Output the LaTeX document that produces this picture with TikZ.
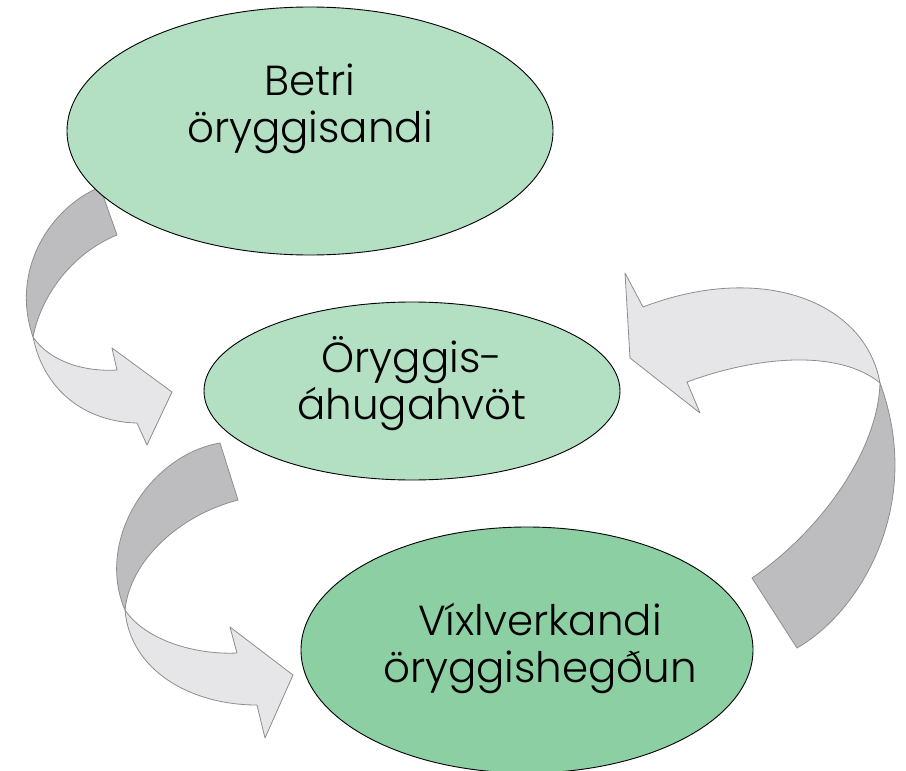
\documentclass[tikz,border=0pt]{standalone}
\usepackage{fontspec}
\setmainfont{Poppins}[UprightFont=* Light]
\usetikzlibrary{shapes.geometric}
\definecolor{mintA}{HTML}{B3DFC3}
\definecolor{mintB}{HTML}{8CCFA3}
\definecolor{bandDark}{HTML}{BDBDC0}
\definecolor{bandLight}{HTML}{E6E6E8}
\definecolor{bandEdge}{HTML}{8E8E8E}
\tikzset{
  bubble/.style={ellipse, draw=black, line width=0.9pt, inner sep=0pt},
  caption/.style={align=center, inner sep=0pt, font=\fontsize{42}{47}\selectfont},
  backface/.style={fill=bandDark, draw=bandEdge, line width=0.8pt, line join=round},
  frontface/.style={fill=bandLight, draw=bandEdge, line width=0.8pt, line join=round}
}
\begin{document}
\begin{tikzpicture}[x=1pt,y=-1pt]
\clip (0,0) rectangle (906,771);
\fill[white] (0,0) rectangle (906,771);

% curved arrow: top ellipse -> middle ellipse
\path[backface] (100,187) .. controls (50,208) and (10,270) .. (33,337)
  .. controls (42,292) and (75,252) .. (117,235) -- cycle;
\path[frontface] (33,337) .. controls (50,362) and (85,372) .. (117,370)
  -- (112,348) -- (172,392) -- (147,445) -- (137,423)
  .. controls (90,422) and (45,395) .. (33,337) -- cycle;

% curved arrow: middle ellipse -> bottom ellipse
\path[backface] (220,443) .. controls (150,455) and (95,540) .. (125,610)
  .. controls (130,560) and (180,515) .. (238,500) -- cycle;
\path[frontface] (125,610) .. controls (145,640) and (195,655) .. (237,653)
  -- (230,627) -- (293,675) -- (265,738) -- (257,705)
  .. controls (190,705) and (130,670) .. (125,610) -- cycle;

% curved arrow: bottom ellipse -> middle ellipse
\path[backface] (797,648) .. controls (860,612) and (925,505) .. (880,383)
  .. controls (878,450) and (822,530) .. (752,578) -- cycle;
\path[frontface] (880,383) .. controls (865,300) and (760,262) .. (643,307)
  -- (625,273) -- (630,358) -- (700,413) -- (687,382)
  .. controls (760,355) and (840,350) .. (880,383) -- cycle;

% the three stages
\node[bubble, fill=mintA, minimum width=486pt, minimum height=248pt] (climate) at (310,131) {};
\node[caption] (climateText) at (310,109) {Betri\\öryggisandi};
\node[bubble, fill=mintA, minimum width=416pt, minimum height=178pt] (motive) at (412,391) {};
\node[caption] (motiveText) at (412,384) {Öryggis-\\áhugahvöt};
\node[bubble, fill=mintB, minimum width=452pt, minimum height=246pt] (behave) at (527,650) {};
\node[caption] (behaveText) at (540,648) {Víxlverkandi\\öryggishegðun};
\end{tikzpicture}
\end{document}
